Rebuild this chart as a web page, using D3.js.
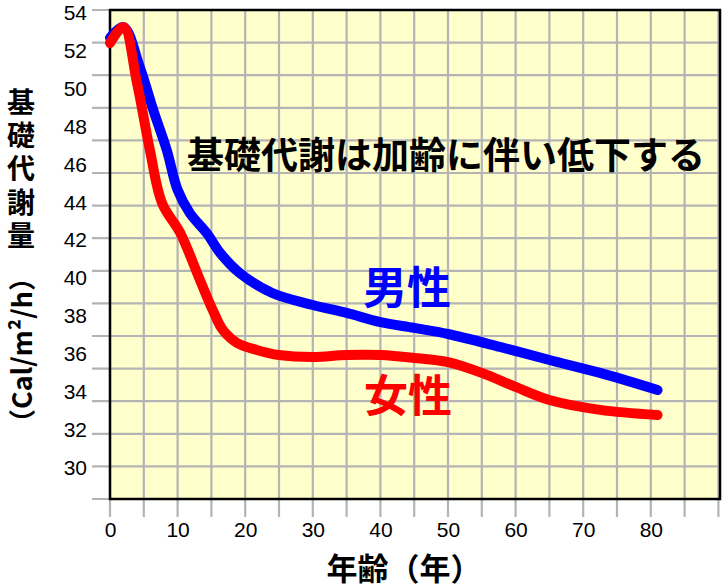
<!DOCTYPE html>
<html>
<head>
<meta charset="utf-8">
<script src="https://cdn.jsdelivr.net/npm/d3@7"></script>
<style>
  html, body { margin: 0; padding: 0; background: #ffffff; }
  svg { display: block; }
</style>
</head>
<body>
<svg id="chart" width="722" height="588"></svg>
<script>
// ---- data ----
const maleAges   = [0, 2, 4.4, 6.4, 8.4, 10, 11.8, 14.3, 16.3, 19.2, 24, 30, 35, 40, 45, 50, 57.7, 65, 72.5, 81];
const maleValues = [52.66, 53.23, 51.13, 48.86, 46.75, 44.65, 43.44, 42.38, 41.33, 40.27, 39.22, 38.59, 38.17, 37.69, 37.38, 37.06, 36.38, 35.69, 35.01, 34.11];

const femaleAges   = [0, 2, 4, 5.9, 7.7, 10.4, 13.3, 15.2, 16.7, 18.8, 21.7, 25, 30, 35, 40, 45, 50, 55, 60, 65, 72.5, 81];
const femaleValues = [52.39, 53.23, 50.28, 46.75, 43.96, 42.38, 39.91, 38.32, 37.27, 36.59, 36.22, 35.95, 35.85, 35.95, 35.95, 35.80, 35.58, 35.01, 34.27, 33.58, 33.06, 32.79];

const yTickValues = [30, 32, 34, 36, 38, 40, 42, 44, 46, 48, 50, 52, 54];
const xTickValues = [0, 10, 20, 30, 40, 50, 60, 70, 80];
const xGridValues = d3.range(0, 91, 5);
const yGridCount  = 15;

const titleText   = "基礎代謝は加齢に伴い低下する";
const maleLabel   = "男性";
const femaleLabel = "女性";
const xAxisTitle  = "年齢（年）";
const yTitleCJK   = "基礎代謝量";
const yTitleUnit  = "（Cal/m²/h）";

// ---- layout ----
const plot = { left: 110, right: 720, top: 10, bottom: 499 };
const svg = d3.select("#chart");

const x = d3.scaleLinear().domain([0, 90]).range([plot.left, 718.4]);
const y = d3.scaleLinear().domain([30, 54]).range([468, 12.5]);
const gy = d3.scaleLinear().domain([0, yGridCount]).range([plot.top, plot.bottom]);

svg.append("rect").attr("width", 722).attr("height", 588).attr("fill", "#ffffff");

// plot background
svg.append("rect")
  .attr("x", plot.left).attr("y", plot.top)
  .attr("width", plot.right - plot.left).attr("height", plot.bottom - plot.top)
  .attr("fill", "#ffffcc");

// grid
const grid = svg.append("g").attr("stroke", "#b4b4b4").attr("stroke-width", 2.2);
grid.selectAll("line.v").data(xGridValues).join("line")
  .attr("class", "v")
  .attr("x1", d => x(d)).attr("x2", d => x(d))
  .attr("y1", plot.top).attr("y2", plot.bottom + 18);
grid.selectAll("line.h").data(d3.range(0, yGridCount + 1)).join("line")
  .attr("class", "h")
  .attr("x1", plot.left - 18).attr("x2", plot.right)
  .attr("y1", d => gy(d)).attr("y2", d => gy(d));

// border
svg.append("rect")
  .attr("x", plot.left).attr("y", plot.top)
  .attr("width", plot.right - plot.left).attr("height", plot.bottom - plot.top)
  .attr("fill", "none").attr("stroke", "#000").attr("stroke-width", 2.5);

// axes labels
const yAxis = d3.axisLeft(y).tickValues(yTickValues).tickSize(0).tickPadding(23);
const yg = svg.append("g").attr("transform", `translate(${plot.left},0)`).call(yAxis);
yg.select(".domain").remove();
yg.selectAll("text").attr("font-family", "'Liberation Sans', Arial, sans-serif")
  .attr("font-size", 21).attr("fill", "#000");

const xAxis = d3.axisBottom(x).tickValues(xTickValues).tickSize(0).tickPadding(23);
const xg = svg.append("g").attr("transform", `translate(0,${plot.bottom})`).call(xAxis);
xg.select(".domain").remove();
xg.selectAll("text").attr("font-family", "'Liberation Sans', Arial, sans-serif")
  .attr("font-size", 21).attr("fill", "#000");

// lines
const line = d3.line().x(d => x(d[0])).y(d => y(d[1])).curve(d3.curveCatmullRom.alpha(0.5));
svg.append("path")
  .datum(maleAges.map((a, i) => [a, maleValues[i]]))
  .attr("d", line).attr("fill", "none").attr("stroke", "#0000ff")
  .attr("stroke-width", 10).attr("stroke-linecap", "round").attr("stroke-linejoin", "round");
svg.append("path")
  .datum(femaleAges.map((a, i) => [a, femaleValues[i]]))
  .attr("d", line).attr("fill", "none").attr("stroke", "#ff0000")
  .attr("stroke-width", 10).attr("stroke-linecap", "round").attr("stroke-linejoin", "round");

const cjk = "'Noto Sans CJK JP', 'Noto Sans CJK SC', sans-serif";

// title
svg.append("text")
  .attr("x", 446).attr("y", 153)
  .attr("text-anchor", "middle").attr("dominant-baseline", "central")
  .attr("font-family", cjk).attr("font-weight", "bold").attr("font-size", 37)
  .attr("fill", "#000").text(titleText);

// series labels
svg.append("text")
  .attr("x", 407).attr("y", 285)
  .attr("text-anchor", "middle").attr("dominant-baseline", "central")
  .attr("font-family", cjk).attr("font-weight", "bold").attr("font-size", 44)
  .attr("fill", "#0000ff").text(maleLabel);
svg.append("text")
  .attr("x", 408).attr("y", 393)
  .attr("text-anchor", "middle").attr("dominant-baseline", "central")
  .attr("font-family", cjk).attr("font-weight", "bold").attr("font-size", 44)
  .attr("fill", "#ff0000").text(femaleLabel);

// x axis title
svg.append("text")
  .attr("x", 404).attr("y", 566)
  .attr("text-anchor", "middle").attr("dominant-baseline", "central")
  .attr("font-family", cjk).attr("font-weight", "bold").attr("font-size", 31)
  .attr("fill", "#000").text(xAxisTitle);

// y axis title: upright CJK stacked vertically
svg.append("text")
  .attr("x", 21).attr("y", 88)
  .attr("style", "writing-mode: vertical-rl; text-orientation: upright;")
  .attr("text-anchor", "start")
  .attr("font-family", cjk).attr("font-weight", "bold").attr("font-size", 28)
  .attr("letter-spacing", 5.4)
  .attr("fill", "#000").text(yTitleCJK);
svg.append("text")
  .attr("transform", "translate(20,350) rotate(-90)")
  .attr("text-anchor", "middle").attr("dominant-baseline", "central")
  .attr("font-family", cjk).attr("font-weight", "bold").attr("font-size", 27)
  .attr("fill", "#000").text(yTitleUnit);
</script>
</body>
</html>
